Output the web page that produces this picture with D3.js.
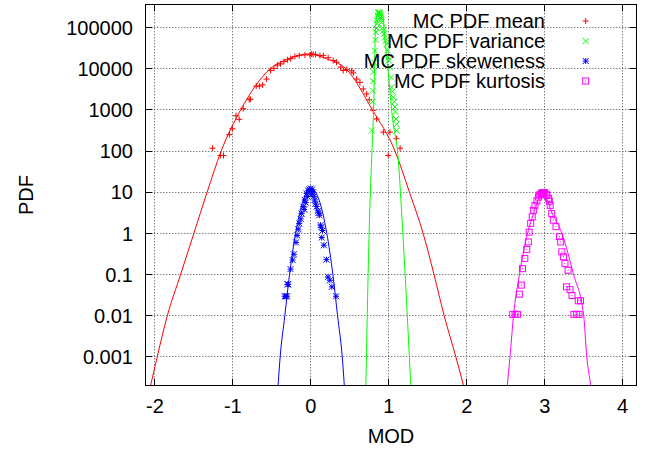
<!DOCTYPE html>
<html>
<head>
<meta charset="utf-8">
<script src="https://cdn.jsdelivr.net/npm/d3@7"></script>
<style>
  body { margin: 0; background: #fff; }
  svg { display: block; font-family: "Liberation Sans", Arial, sans-serif; }
</style>
</head>
<body>
<svg id="chart" width="652" height="452"></svg>
<script>
// ticks
const xTicks = [-2, -1, 0, 1, 2, 3, 4];
const yTicks = [0.001, 0.01, 0.1, 1, 10, 100, 1000, 10000, 100000];

// legend titles
const seriesNames = ["MC PDF mean", "MC PDF variance", "MC PDF skeweness", "MC PDF kurtosis"];

// MC histogram points [MOD, PDF]
const meanPts = [
  [-1.26, 117], [-1.157, 78], [-1.12, 78], [-1.045, 251], [-1.007, 347], [-0.96, 724],
  [-0.918, 589], [-0.867, 1072], [-0.79, 1778], [-0.775, 1820], [-0.7, 3802], [-0.66, 3802],
  [-0.618, 4074], [-0.567, 5623], [-0.516, 9120], [-0.473, 10233], [-0.43, 12303],
  [-0.388, 13183], [-0.345, 14962], [-0.3, 16596], [-0.259, 17783], [-0.204, 19953],
  [-0.149, 20893], [-0.075, 21727], [-0.012, 21727], [0.03, 22387], [0.01, 22909],
  [0.06, 22387], [0.117, 20893], [0.16, 20893], [0.223, 18621], [0.287, 15849],
  [0.33, 14454], [0.383, 10965], [0.416, 9120], [0.46, 9550], [0.524, 8913], [0.545, 7943],
  [0.588, 5623], [0.63, 4677], [0.673, 3236], [0.716, 2455], [0.75, 1778], [0.8, 977],
  [0.844, 603], [0.93, 288], [1.015, 288], [1.1, 200], [0.993, 78], [1.145, 117]
];
const varPts = [
  [0.782, 316], [0.795, 2951], [0.803, 8318], [0.822, 27540], [0.835, 77625], [0.844, 147911],
  [0.857, 194984], [0.878, 213796], [0.895, 177828], [0.908, 134896], [0.929, 85114],
  [0.95, 57544], [0.972, 39811], [0.993, 19055], [1.015, 10965], [1.028, 6166], [1.037, 3548],
  [1.058, 2042], [1.08, 1175], [1.093, 603], [1.1, 316], [0.865, 239883], [0.87, 229087],
  [0.885, 234423], [0.89, 199526], [0.85, 125893], [0.84, 95499], [0.83, 50119],
  [0.813, 14125], [0.8, 5012], [0.79, 1585], [0.9, 158489], [0.92, 100000], [0.94, 70795],
  [0.96, 47863], [0.985, 28184], [1.0, 15849], [1.045, 2818], [1.07, 1585], [1.085, 891],
  [1.1, 447]
];
const skewPts = [
  [-0.32, 0.0295], [-0.335, 0.0295], [-0.305, 0.0295], [-0.29, 0.0575], [-0.3, 0.0575],
  [-0.26, 0.135], [-0.234, 0.224], [-0.217, 0.309], [-0.19, 0.603], [-0.148, 1.74],
  [-0.118, 3.02], [-0.097, 4.47], [-0.076, 6.46], [-0.054, 9.33], [-0.033, 10.96], [0, 12.3],
  [0.03, 10], [0.05, 6.46], [0.075, 4.47], [0.11, 2.75], [0.125, 1.58], [0.15, 1.17],
  [0.167, 0.513], [0.2, 0.229], [0.22, 0.087], [0.245, 0.072], [0.27, 0.05], [0.324, 0.0295],
  [-0.02, 11.7], [0.015, 11.5], [-0.01, 10.5], [0.01, 8.9], [-0.045, 7.9], [0.04, 7.9],
  [-0.065, 5.6], [0.06, 5.2], [-0.085, 3.8], [0.09, 3.5], [-0.13, 2.24], [0.1, 3.16],
  [-0.16, 1.26], [0.135, 1.41], [-0.175, 0.89], [0.14, 0.79]
];
const kurtPts = [
  [2.59, 0.0107], [2.62, 0.0107], [2.65, 0.0107], [2.675, 0.0331], [2.7, 0.055], [2.715, 0.138],
  [2.745, 0.245], [2.77, 0.407], [2.79, 0.617], [2.8, 1.07], [2.82, 1.74], [2.84, 2.51],
  [2.855, 3.63], [2.875, 4.79], [2.9, 6.17], [2.92, 7.59], [2.95, 8.91], [2.985, 9.33],
  [3.02, 8.91], [3.05, 7.08], [3.07, 4.79], [3.09, 3.02], [3.11, 2.09], [3.145, 1.45],
  [3.19, 0.83], [3.205, 0.617], [3.22, 0.355], [3.24, 0.269], [3.26, 0.186], [3.3, 0.126],
  [3.28, 0.05], [3.325, 0.0427], [3.35, 0.0309], [3.43, 0.0229], [3.46, 0.0229],
  [3.375, 0.0107], [3.41, 0.0107], [3.44, 0.0107], [2.97, 9.77], [3.0, 9.77], [2.96, 9.33],
  [3.03, 8.32], [2.93, 8.51], [3.06, 6.03]
];

// fitted curves [MOD, PDF]
const meanFit = [
  [-2.09, 1e-4], [-1.97, 0.001], [-1.84, 0.01], [-1.67, 0.1], [-1.5, 1], [-1.33, 10],
  [-1.15, 100], [-0.9, 1000], [-0.52, 10000], [-0.28, 17600], [-0.04, 23000], [0.2, 17600],
  [0.45, 10000], [0.79, 1000], [1.08, 100], [1.265, 10], [1.44, 1], [1.58, 0.1],
  [1.71, 0.01], [1.86, 0.001], [2.0, 1e-4]
];
const varFit = [
  [0.703, 1e-4], [0.749, 1.2], [0.78, 65], [0.803, 720], [0.816, 8300], [0.831, 112000],
  [0.87, 245000], [0.916, 229000], [0.95, 54000], [0.993, 8300], [1.044, 720], [1.121, 65],
  [1.178, 1.2], [1.29, 1e-4]
];
const skewFit = [
  [-0.43, 1e-4], [-0.393, 0.001], [-0.333, 0.01], [-0.273, 0.1], [-0.195, 1], [-0.142, 3.16],
  [-0.051, 10], [0.005, 12.2], [0.061, 10], [0.152, 3.16], [0.205, 1], [0.283, 0.1],
  [0.343, 0.01], [0.403, 0.001], [0.44, 1e-4]
];
const kurtFit = [
  [2.505, 1e-4], [2.52, 2e-4], [2.555, 0.001], [2.6, 0.01], [2.676, 0.1], [2.78, 1],
  [2.855, 2.95], [2.975, 9.7], [3.1, 2.95], [3.22, 1], [3.37, 0.1], [3.5, 0.01],
  [3.54, 0.001], [3.59, 2e-4], [3.61, 1e-4]
];

const colors = ["#ff0000", "#00ff00", "#0000ff", "#ff00ff"];
const symbols = ["plus", "cross", "star", "square"];

const svg = d3.select("#chart");
const W = 652, H = 452;
const pLeft = 145.3, pRight = 636.7, pTop = 4.3, pBottom = 385.7;

svg.append("rect").attr("width", W).attr("height", H).attr("fill", "#fff");

const x = d3.scaleLinear().domain([-2.123, 4.18]).range([pLeft, pRight]);
const y = d3.scaleLog().domain([Math.pow(10, -3.705), Math.pow(10, 5.568)]).range([pBottom, pTop]);
const snap = (v) => Math.floor(v) + 0.5;

// grid
const grid = svg.append("g")
  .attr("stroke", "#444")
  .attr("stroke-width", 1)
  .attr("stroke-dasharray", "1,2");
grid.selectAll(".gx").data(xTicks).join("line")
  .attr("class", "gx")
  .attr("x1", (d) => snap(x(d))).attr("x2", (d) => snap(x(d)))
  .attr("y1", pTop).attr("y2", pBottom);
grid.selectAll(".gy").data(yTicks).join("line")
  .attr("class", "gy")
  .attr("y1", (d) => snap(y(d))).attr("y2", (d) => snap(y(d)))
  .attr("x1", pLeft).attr("x2", pRight);

// tick marks, mirrored on all four sides
const tl = 7;
const ticks = svg.append("g").attr("stroke", "#000").attr("stroke-width", 1);
xTicks.forEach((d) => {
  const px = snap(x(d));
  ticks.append("line").attr("x1", px).attr("x2", px).attr("y1", pBottom).attr("y2", pBottom - tl);
  ticks.append("line").attr("x1", px).attr("x2", px).attr("y1", pTop).attr("y2", pTop + tl);
});
yTicks.forEach((d) => {
  const py = snap(y(d));
  ticks.append("line").attr("y1", py).attr("y2", py).attr("x1", pLeft).attr("x2", pLeft + tl);
  ticks.append("line").attr("y1", py).attr("y2", py).attr("x1", pRight).attr("x2", pRight - tl);
});

// tick labels
svg.append("g").selectAll("text").data(xTicks).join("text")
  .attr("x", (d) => x(d))
  .attr("y", pBottom + 27)
  .attr("text-anchor", "middle")
  .attr("font-size", 20)
  .text((d) => String(d));
svg.append("g").selectAll("text").data(yTicks).join("text")
  .attr("x", 133)
  .attr("y", (d) => y(d))
  .attr("dy", "0.36em")
  .attr("text-anchor", "end")
  .attr("font-size", 20)
  .text((d) => String(d));

// axis titles
svg.append("text")
  .attr("x", (pLeft + pRight) / 2)
  .attr("y", 443)
  .attr("text-anchor", "middle")
  .attr("font-size", 20)
  .text("MOD");
svg.append("text")
  .attr("transform", "translate(33,195) rotate(-90)")
  .attr("text-anchor", "middle")
  .attr("font-size", 20)
  .text("PDF");

// clip to the plot area
svg.append("clipPath").attr("id", "clip")
  .append("rect").attr("x", pLeft).attr("y", pTop)
  .attr("width", pRight - pLeft).attr("height", pBottom - pTop);

const plot = svg.append("g").attr("clip-path", "url(#clip)");

function marker(sel, type, color) {
  const s = 3;
  if (type === "square") {
    sel.append("rect").attr("x", -s).attr("y", -s).attr("width", 2 * s).attr("height", 2 * s)
      .attr("fill", "none").attr("stroke", color);
    sel.append("rect").attr("x", -0.5).attr("y", -0.5).attr("width", 1).attr("height", 1)
      .attr("fill", color);
    return;
  }
  let p = "";
  if (type === "plus" || type === "star") p += `M${-s},0H${s}M0,${-s}V${s}`;
  if (type === "cross" || type === "star") p += `M${-s},${-s}L${s},${s}M${-s},${s}L${s},${-s}`;
  sel.append("path").attr("d", p).attr("fill", "none").attr("stroke", color);
}

// scatter points
[meanPts, varPts, skewPts, kurtPts].forEach((pts, i) => {
  plot.append("g").selectAll("g").data(pts).join("g")
    .attr("transform", (d) => `translate(${x(d[0])},${y(d[1])})`)
    .each(function () { marker(d3.select(this), symbols[i], colors[i]); });
});

// fit lines
const line = d3.line()
  .x((d) => x(d[0]))
  .y((d) => y(d[1]))
  .curve(d3.curveMonotoneX);
[meanFit, varFit, skewFit, kurtFit].forEach((f, i) => {
  plot.append("path").datum(f)
    .attr("d", line)
    .attr("fill", "none")
    .attr("stroke", colors[i])
    .attr("stroke-width", 1);
});

// frame
svg.append("rect")
  .attr("x", snap(pLeft)).attr("y", snap(pTop))
  .attr("width", snap(pRight) - snap(pLeft)).attr("height", snap(pBottom) - snap(pTop))
  .attr("fill", "none").attr("stroke", "#000").attr("stroke-width", 1);

// legend
const legend = svg.append("g");
seriesNames.forEach((name, i) => {
  legend.append("text")
    .attr("x", 545)
    .attr("y", 27.7 + i * 20)
    .attr("text-anchor", "end")
    .attr("font-size", 20)
    .text(name);
  const g = legend.append("g").attr("transform", `translate(585.7,${21 + i * 20})`);
  marker(g, symbols[i], colors[i]);
});
</script>
</body>
</html>
